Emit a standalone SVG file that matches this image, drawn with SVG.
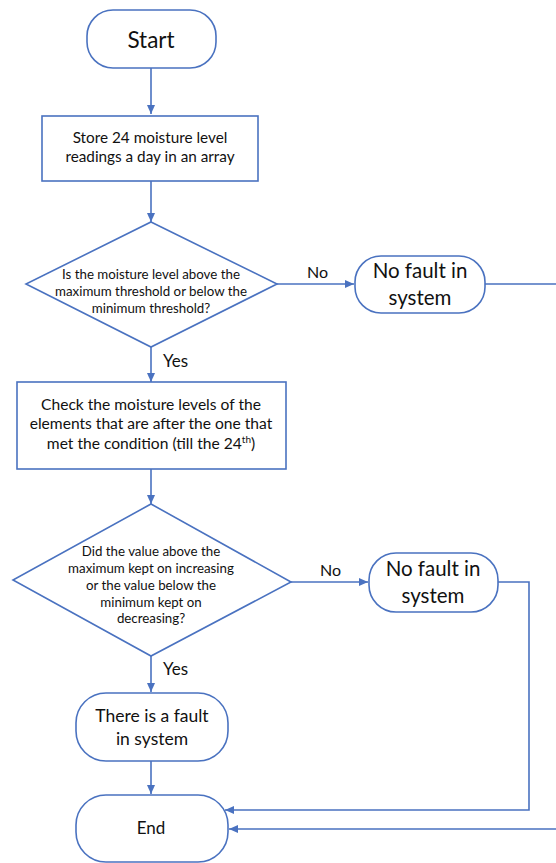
<svg xmlns="http://www.w3.org/2000/svg" width="556" height="863" viewBox="0 0 556 863">
<defs>
<style>
.shape{fill:#fff;stroke:#4a72c0;stroke-width:1.6}
.conn{fill:none;stroke:#4a72c0;stroke-width:1.6}
text{font-family:Lato,"Liberation Sans",sans-serif;fill:#111;text-anchor:middle}
.lbl{text-anchor:start;font-size:16px}
</style>
<marker id="arr" markerWidth="10" markerHeight="10" viewBox="0 0 10 10" refX="9" refY="5" orient="auto" markerUnits="userSpaceOnUse">
<path d="M0,1 L9,5 L0,9 Z" fill="#4a72c0"/>
</marker>
</defs>
<rect width="556" height="863" fill="#fff"/>
<g id="connectors">
<path class="conn" d="M151 68 V114" marker-end="url(#arr)"/>
<path class="conn" d="M151 181 V222" marker-end="url(#arr)"/>
<path class="conn" d="M277 284 H354" marker-end="url(#arr)"/>
<path class="conn" d="M151 347 V382" marker-end="url(#arr)"/>
<path class="conn" d="M151 469 V504" marker-end="url(#arr)"/>
<path class="conn" d="M291 582 H368" marker-end="url(#arr)"/>
<path class="conn" d="M151 656 V692" marker-end="url(#arr)"/>
<path class="conn" d="M151 761 V794" marker-end="url(#arr)"/>
<path class="conn" d="M498 582 H529 V810 H225" marker-end="url(#arr)"/>
<path class="conn" d="M485 284 H570 V829 H229" marker-end="url(#arr)"/>
<text class="lbl" x="307" y="278">No</text>
<text class="lbl" x="320" y="576">No</text>
<text class="lbl" x="163" y="367" style="font-size:17px">Yes</text>
<text class="lbl" x="163" y="675" style="font-size:17px">Yes</text>
</g>
<g id="start">
<rect class="shape" x="87" y="10" width="129" height="58" rx="26" ry="26"/>
<text x="151" y="48" font-size="22.5">Start</text>
</g>
<g id="store">
<rect class="shape" x="42" y="116" width="216" height="65"/>
<text x="150" y="143" font-size="15.3">Store 24 moisture level</text>
<text x="150" y="162" font-size="15.3">readings a day in an array</text>
</g>
<g id="decision1">
<polygon class="shape" points="151,222 277,284 151,347 26,284"/>
<text x="151" y="279" font-size="13.3">Is the moisture level above the</text>
<text x="151" y="296" font-size="13.3">maximum threshold or below the</text>
<text x="151" y="313" font-size="13.3">minimum threshold?</text>
</g>
<g id="nofault1">
<rect class="shape" x="355" y="256" width="130" height="57" rx="26" ry="26"/>
<text x="420" y="278" font-size="20.5">No fault in</text>
<text x="420" y="305" font-size="20.5">system</text>
</g>
<g id="check">
<rect class="shape" x="17" y="382" width="269" height="87"/>
<text x="151" y="410" font-size="15.6">Check the moisture levels of the</text>
<text x="151" y="429" font-size="15.6">elements that are after the one that</text>
<text x="151" y="449" font-size="15.6">met the condition (till the 24<tspan font-size="10" dy="-6">th</tspan><tspan dy="6">)</tspan></text>
</g>
<g id="decision2">
<polygon class="shape" points="151,504 291,582 151,656 13,580"/>
<text x="151" y="556" font-size="13.3">Did the value above the</text>
<text x="151" y="573" font-size="13.3">maximum kept on increasing</text>
<text x="151" y="590" font-size="13.3">or the value below the</text>
<text x="151" y="607" font-size="13.3">minimum kept on</text>
<text x="151" y="623" font-size="13.3">decreasing?</text>
</g>
<g id="nofault2">
<rect class="shape" x="369" y="553" width="129" height="59" rx="27" ry="27"/>
<text x="433" y="576" font-size="20.5">No fault in</text>
<text x="433" y="603" font-size="20.5">system</text>
</g>
<g id="fault">
<rect class="shape" x="76" y="693" width="152" height="68" rx="30" ry="30"/>
<text x="152" y="722" font-size="17.5">There is a fault</text>
<text x="152" y="745" font-size="17.5">in system</text>
</g>
<g id="end">
<rect class="shape" x="76" y="795" width="152" height="67" rx="30" ry="30"/>
<text x="151" y="834" font-size="17">End</text>
</g>
</svg>
